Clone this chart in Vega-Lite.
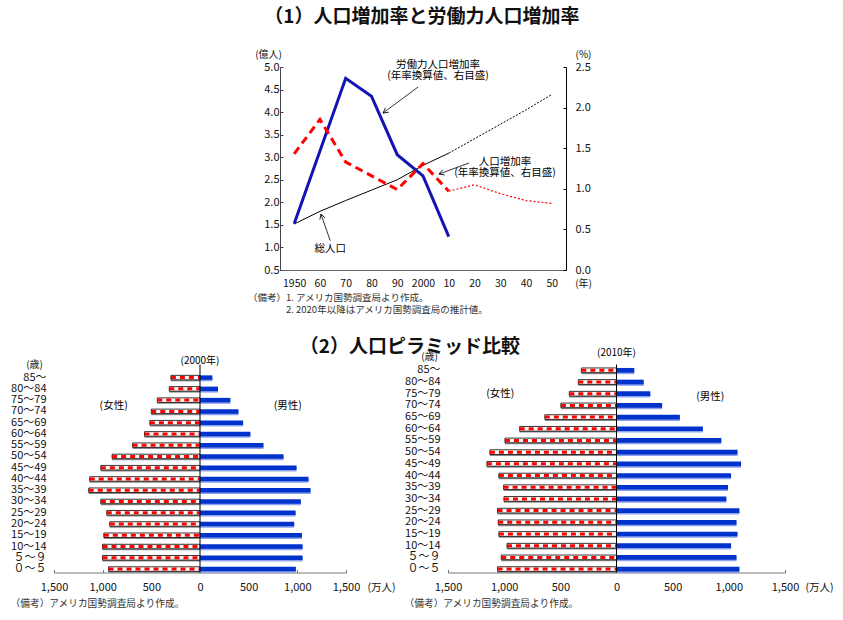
{
  "$schema": "https://vega.github.io/schema/vega-lite/v6.json",
  "padding": {"left": 10, "top": 8, "right": 5, "bottom": 5},
  "background": "#ffffff",
  "config": {
    "font": "Noto Sans CJK JP",
    "view": {"stroke": null},
    "axis": {"grid": false, "labelColor": "#111", "titleColor": "#111", "titleFontWeight": "normal", "labelFont": "Noto Sans CJK JP", "titleFont": "Noto Sans CJK JP", "labelOverlap": false, "labelFlush": false},
    "axisY": {"labelOverlap": false},
    "axisQuantitative": {"labelOverlap": false},
    "title": {"font": "Noto Sans CJK JP", "color": "#111"},
    "text": {"fontWeight": "normal"}
  },
  "title": {"text": "（1）人口増加率と労働力人口増加率", "fontSize": 19, "fontWeight": "bold", "anchor": "middle", "offset": 22},
  "datasets": {
    "trend": [
      {"year": 1950, "pop": 1.52, "growth": 1.43},
      {"year": 1960, "pop": 1.80, "growth": 1.855},
      {"year": 1970, "pop": 2.04, "growth": 1.33},
      {"year": 1980, "pop": 2.27, "growth": 1.16},
      {"year": 1990, "pop": 2.50, "growth": 0.99},
      {"year": 2000, "pop": 2.82, "growth": 1.31},
      {"year": 2010, "pop": 3.09, "growth": 0.97},
      {"year": 2020, "pop": 3.41, "growth": 1.05},
      {"year": 2030, "pop": 3.73, "growth": 0.94},
      {"year": 2040, "pop": 4.05, "growth": 0.855},
      {"year": 2050, "pop": 4.39, "growth": 0.82}
    ],
    "labor": [
      {"year": 1950, "labor": 0.57},
      {"year": 1970, "labor": 2.36},
      {"year": 1980, "labor": 2.14},
      {"year": 1990, "labor": 1.42},
      {"year": 2000, "labor": 1.16},
      {"year": 2010, "labor": 0.41}
    ],
    "p2000": [
      {"age": "85～", "male": 127, "female": 299},
      {"age": "80～84", "male": 185, "female": 316},
      {"age": "75～79", "male": 312, "female": 439},
      {"age": "70～74", "male": 395, "female": 501},
      {"age": "65～69", "male": 443, "female": 515},
      {"age": "60～64", "male": 518, "female": 570},
      {"age": "55～59", "male": 652, "female": 693},
      {"age": "50～54", "male": 858, "female": 903},
      {"age": "45～49", "male": 992, "female": 1019},
      {"age": "40～44", "male": 1115, "female": 1133},
      {"age": "35～39", "male": 1136, "female": 1143},
      {"age": "30～34", "male": 1036, "female": 1019},
      {"age": "25～29", "male": 982, "female": 958},
      {"age": "20～24", "male": 968, "female": 927},
      {"age": "15～19", "male": 1047, "female": 988},
      {"age": "10～14", "male": 1054, "female": 1002},
      {"age": "５～９", "male": 1054, "female": 1002},
      {"age": "０～５", "male": 985, "female": 940}
    ],
    "p2010": [
      {"age": "85～", "male": 158, "female": 313},
      {"age": "80～84", "male": 242, "female": 340},
      {"age": "75～79", "male": 301, "female": 420},
      {"age": "70～74", "male": 406, "female": 495},
      {"age": "65～69", "male": 564, "female": 638},
      {"age": "60～64", "male": 769, "female": 862},
      {"age": "55～59", "male": 933, "female": 993},
      {"age": "50～54", "male": 1077, "female": 1127},
      {"age": "45～49", "male": 1109, "female": 1154},
      {"age": "40～44", "male": 1020, "female": 1047},
      {"age": "35～39", "male": 993, "female": 1005},
      {"age": "30～34", "male": 978, "female": 1002},
      {"age": "25～29", "male": 1094, "female": 1059},
      {"age": "20～24", "male": 1068, "female": 1053},
      {"age": "15～19", "male": 1077, "female": 1047},
      {"age": "10～14", "male": 1020, "female": 975},
      {"age": "５～９", "male": 1068, "female": 1026},
      {"age": "０～５", "male": 1094, "female": 1059}
    ]
  },
  "vconcat": [
    {
      "width": 512,
      "height": 203,
      "title": {
        "text": ["（備考）1. アメリカ国勢調査局より作成。", "\u200b\u3000\u3000\u3000\u30002. 2020年以降はアメリカ国勢調査局の推計値。"],
        "orient": "bottom", "anchor": "start", "frame": "group", "dx": 194,
        "fontSize": 9.5, "fontWeight": "normal", "color": "#333", "lineHeight": 12, "offset": 4
      },
      "layer": [
        {
          "data": {"name": "trend"},
          "encoding": {
            "y": {
              "field": "pop", "type": "quantitative", "title": "(億人)",
              "scale": {"domain": [0.5, 5], "nice": false, "zero": false},
              "axis": {
                "orient": "left", "offset": -226, "values": [0.5, 1, 1.5, 2, 2.5, 3, 3.5, 4, 4.5, 5], "format": ".1f",
                "labelOverlap": false, "domainColor": "#444", "tickColor": "#444", "tickSize": -3, "labelPadding": 4, "labelFontSize": 11,
                "titleAngle": 0, "titleX": -12, "titleY": -13, "titleAlign": "center", "titleBaseline": "middle", "titleFontSize": 10
              }
            }
          },
          "layer": [
            {
              "transform": [{"filter": "datum.year <= 2010"}],
              "mark": {"type": "line", "color": "#000", "strokeWidth": 1},
              "encoding": {
                "x": {
                  "field": "year", "type": "quantitative", "title": "(年)",
                  "scale": {"domain": [1944.5, 2055.5], "nice": false, "zero": false, "range": [226, 512]},
                  "axis": {
                    "values": [1950, 1960, 1970, 1980, 1990, 2000, 2010, 2020, 2030, 2040, 2050],
                    "labelExpr": "datum.value == 1950 || datum.value == 2000 ? '' + datum.value : substring('' + datum.value, 2, 4)",
                    "labelOverlap": false, "domainColor": "#666", "ticks": false, "labelPadding": 8, "labelFontSize": 10.5,
                    "titleX": 529, "titleY": 13, "titleAlign": "center", "titleBaseline": "middle", "titleFontSize": 10
                  }
                }
              }
            },
            {
              "transform": [{"filter": "datum.year >= 2010"}],
              "mark": {"type": "line", "color": "#000", "strokeWidth": 1, "strokeDash": [2, 1.5]},
              "encoding": {
                "x": {"field": "year", "type": "quantitative", "title": "(年)"}
              }
            }
          ]
        },
        {
          "layer": [
            {
              "data": {"name": "labor"},
              "mark": {"type": "line", "color": "#1414b4", "strokeWidth": 3},
              "encoding": {
                "x": {"field": "year", "type": "quantitative", "title": "(年)"},
                "y": {
                  "field": "labor", "type": "quantitative", "title": "(%)",
                  "scale": {"domain": [0, 2.5], "nice": false},
                  "axis": {
                    "orient": "right", "values": [0, 0.5, 1, 1.5, 2, 2.5], "format": ".1f",
                    "labelOverlap": false, "domainColor": "#000", "tickColor": "#000", "tickSize": -3, "labelPadding": 12, "labelFontSize": 11,
                    "titleAngle": 0, "titleX": 17, "titleY": -13, "titleAlign": "center", "titleBaseline": "middle", "titleFontSize": 10
                  }
                }
              }
            },
            {
              "data": {"name": "trend"},
              "transform": [{"filter": "datum.year <= 2010"}],
              "mark": {"type": "line", "color": "#ff0000", "strokeWidth": 3, "strokeDash": [8, 5]},
              "encoding": {
                "x": {"field": "year", "type": "quantitative", "title": "(年)"},
                "y": {"field": "growth", "type": "quantitative", "title": "(%)"}
              }
            },
            {
              "data": {"name": "trend"},
              "transform": [{"filter": "datum.year >= 2010"}],
              "mark": {"type": "line", "color": "#ff0000", "strokeWidth": 1.2, "strokeDash": [2, 2]},
              "encoding": {
                "x": {"field": "year", "type": "quantitative", "title": "(年)"},
                "y": {"field": "growth", "type": "quantitative", "title": "(%)"}
              }
            },
            {
              "data": {"values": [{}]},
              "layer": [
                {
                  "mark": {"type": "text", "text": "労働力人口増加率", "fontSize": 10.5, "align": "center", "baseline": "middle"},
                  "encoding": {"x": {"datum": 2005.8, "type": "quantitative"}, "y": {"datum": 2.524, "type": "quantitative"}}
                },
                {
                  "mark": {"type": "text", "text": "(年率換算値、右目盛)", "fontSize": 10.5, "align": "center", "baseline": "middle"},
                  "encoding": {"x": {"datum": 2005.8, "type": "quantitative"}, "y": {"datum": 2.393, "type": "quantitative"}}
                },
                {
                  "mark": {"type": "text", "text": "人口増加率", "fontSize": 10.5, "align": "center", "baseline": "middle"},
                  "encoding": {"x": {"datum": 2031.8, "type": "quantitative"}, "y": {"datum": 1.333, "type": "quantitative"}}
                },
                {
                  "mark": {"type": "text", "text": "(年率換算値、右目盛)", "fontSize": 10.5, "align": "center", "baseline": "middle"},
                  "encoding": {"x": {"datum": 2031.8, "type": "quantitative"}, "y": {"datum": 1.194, "type": "quantitative"}}
                },
                {
                  "mark": {"type": "text", "text": "総人口", "fontSize": 10.5, "align": "center", "baseline": "middle"},
                  "encoding": {"x": {"datum": 1964.0, "type": "quantitative"}, "y": {"datum": 0.258, "type": "quantitative"}}
                },
                {
                  "mark": {"type": "rule", "color": "#000", "strokeWidth": 0.8},
                  "encoding": {
                    "x": {"datum": 1998.1, "type": "quantitative"}, "y": {"datum": 2.254, "type": "quantitative"},
                    "x2": {"datum": 1984.5}, "y2": {"datum": 1.933}
                  }
                },
                {
                  "mark": {"type": "point", "shape": "M -0.55 1 L 0 0 L 0.55 1", "filled": false, "stroke": "#000", "strokeWidth": 0.8, "size": 100, "angle": 233, "opacity": 1},
                  "encoding": {"x": {"datum": 1984.5, "type": "quantitative"}, "y": {"datum": 1.933, "type": "quantitative"}}
                },
                {
                  "mark": {"type": "rule", "color": "#000", "strokeWidth": 0.8},
                  "encoding": {
                    "x": {"datum": 2017.9, "type": "quantitative"}, "y": {"datum": 1.318, "type": "quantitative"},
                    "x2": {"datum": 2006.2}, "y2": {"datum": 1.182}
                  }
                },
                {
                  "mark": {"type": "point", "shape": "M -0.55 1 L 0 0 L 0.55 1", "filled": false, "stroke": "#000", "strokeWidth": 0.8, "size": 100, "angle": 250, "opacity": 1},
                  "encoding": {"x": {"datum": 2006.2, "type": "quantitative"}, "y": {"datum": 1.182, "type": "quantitative"}}
                },
                {
                  "mark": {"type": "rule", "color": "#000", "strokeWidth": 0.8},
                  "encoding": {
                    "x": {"datum": 1964.0, "type": "quantitative"}, "y": {"datum": 0.361, "type": "quantitative"},
                    "x2": {"datum": 1960.4}, "y2": {"datum": 0.689}
                  }
                },
                {
                  "mark": {"type": "point", "shape": "M -0.55 1 L 0 0 L 0.55 1", "filled": false, "stroke": "#000", "strokeWidth": 0.8, "size": 100, "angle": 342, "opacity": 1},
                  "encoding": {"x": {"datum": 1960.4, "type": "quantitative"}, "y": {"datum": 0.689, "type": "quantitative"}}
                }
              ]
            }
          ]
        }
      ],
      "resolve": {"scale": {"y": "independent"}, "axis": {"y": "independent"}}
    },
    {
      "title": {"text": "（2）人口ピラミッド比較", "fontSize": 19, "fontWeight": "bold", "anchor": "middle", "offset": -9, "dx": -12},
      "bounds": "flush",
      "spacing": 102,
      "hconcat": [
        {
          "width": 292,
          "height": 208,
          "title": {"text": "（備考）アメリカ国勢調査局より作成。", "orient": "bottom", "anchor": "start", "frame": "bounds", "fontSize": 9.7, "fontWeight": "normal", "color": "#333", "offset": 6},
          "layer": [
            {
              "data": {"name": "p2000"},
              "transform": [{"calculate": "-datum.female", "as": "femaleLeft"}],
              "encoding": {
                "y": {
                  "field": "age", "type": "nominal", "title": "(歳)",
                  "scale": {"domain": ["85～", "80～84", "75～79", "70～74", "65～69", "60～64", "55～59", "50～54", "45～49", "40～44", "35～39", "30～34", "25～29", "20～24", "15～19", "10～14", "５～９", "０～５"], "paddingInner": 0.6, "paddingOuter": 0.535, "align": 0.9},
                  "axis": {"labelFontSize": 11, "labelPadding": 8, "domain": false, "ticks": false, "titleAngle": 0, "titleX": -20, "titleY": 0, "titleAlign": "center", "titleBaseline": "middle", "titleFontSize": 10}
                }
              },
              "layer": [
                {
                  "mark": {"type": "bar", "color": "#8a8a8a", "yOffset": 1.5},
                  "encoding": {
                    "x": {
                      "field": "femaleLeft", "type": "quantitative", "title": "(万人)",
                      "scale": {"domain": [-1500, 1500], "nice": false},
                      "axis": {
                        "values": [-1500, -1000, -500, 0, 500, 1000, 1500], "labelExpr": "format(abs(datum.value), ',')",
                        "labelOverlap": false, "labelFontSize": 11, "labelPadding": 12, "domainColor": "#777", "tickColor": "#777", "tickSize": -3,
                        "titleX": 327, "titleY": 15, "titleAlign": "center", "titleBaseline": "middle", "titleFontSize": 10.5
                      }
                    },
                    "x2": {"datum": 0}
                  }
                },
                {
                  "mark": {"type": "bar", "fill": "#ffffff", "stroke": "#000", "strokeWidth": 0.8},
                  "encoding": {"x": {"field": "femaleLeft", "type": "quantitative", "title": "(万人)"}, "x2": {"datum": 0}}
                },
                {
                  "mark": {"type": "rule", "color": "#ff0000", "strokeWidth": 3, "strokeDash": [5, 4]},
                  "encoding": {"x": {"field": "femaleLeft", "type": "quantitative", "title": "(万人)"}, "x2": {"datum": 0}}
                },
                {
                  "mark": {"type": "bar", "color": "#8da3ee", "yOffset": 1.5},
                  "encoding": {"x": {"field": "male", "type": "quantitative", "title": "(万人)"}, "x2": {"datum": 0}}
                },
                {
                  "mark": {"type": "bar", "color": "#0033cc"},
                  "encoding": {"x": {"field": "male", "type": "quantitative", "title": "(万人)"}, "x2": {"datum": 0}}
                }
              ]
            },
            {
              "data": {"values": [{}]},
              "layer": [
                {
                  "mark": {"type": "rule", "color": "#000", "strokeWidth": 1},
                  "encoding": {"x": {"datum": 0, "type": "quantitative"}}
                },
                {
                  "mark": {"type": "text", "text": "(2000年)", "fontSize": 10, "dy": -17},
                  "encoding": {"x": {"datum": 0, "type": "quantitative"}, "y": {"datum": "85～", "type": "nominal"}}
                },
                {
                  "mark": {"type": "text", "text": "(女性)", "fontSize": 10.5, "dy": 6},
                  "encoding": {"x": {"datum": -887, "type": "quantitative"}, "y": {"datum": "75～79", "type": "nominal"}}
                },
                {
                  "mark": {"type": "text", "text": "(男性)", "fontSize": 10.5, "dy": 6},
                  "encoding": {"x": {"datum": 901, "type": "quantitative"}, "y": {"datum": "75～79", "type": "nominal"}}
                }
              ]
            }
          ]
        },
        {
          "width": 337,
          "height": 208,
          "title": {"text": "（備考）アメリカ国勢調査局より作成。", "orient": "bottom", "anchor": "start", "frame": "bounds", "fontSize": 9.7, "fontWeight": "normal", "color": "#333", "offset": 6},
          "layer": [
            {
              "data": {"name": "p2010"},
              "transform": [{"calculate": "-datum.female", "as": "femaleLeft"}],
              "encoding": {
                "y": {
                  "field": "age", "type": "nominal", "title": "(歳)",
                  "scale": {"domain": ["85～", "80～84", "75～79", "70～74", "65～69", "60～64", "55～59", "50～54", "45～49", "40～44", "35～39", "30～34", "25～29", "20～24", "15～19", "10～14", "５～９", "０～５"], "paddingInner": 0.6, "paddingOuter": 0.195, "align": 0.76},
                  "axis": {"labelFontSize": 11, "labelPadding": 8, "domain": false, "ticks": false, "titleAngle": 0, "titleX": -19, "titleY": -8, "titleAlign": "center", "titleBaseline": "middle", "titleFontSize": 10}
                }
              },
              "layer": [
                {
                  "mark": {"type": "bar", "color": "#8a8a8a", "yOffset": 1.5},
                  "encoding": {
                    "x": {
                      "field": "femaleLeft", "type": "quantitative", "title": "(万人)",
                      "scale": {"domain": [-1500, 1500], "nice": false},
                      "axis": {
                        "values": [-1500, -1000, -500, 0, 500, 1000, 1500], "labelExpr": "format(abs(datum.value), ',')",
                        "labelOverlap": false, "labelFontSize": 11, "labelPadding": 12, "domainColor": "#777", "tickColor": "#777", "tickSize": -3,
                        "titleX": 371, "titleY": 15, "titleAlign": "center", "titleBaseline": "middle", "titleFontSize": 10.5
                      }
                    },
                    "x2": {"datum": 0}
                  }
                },
                {
                  "mark": {"type": "bar", "fill": "#ffffff", "stroke": "#000", "strokeWidth": 0.8},
                  "encoding": {"x": {"field": "femaleLeft", "type": "quantitative", "title": "(万人)"}, "x2": {"datum": 0}}
                },
                {
                  "mark": {"type": "rule", "color": "#ff0000", "strokeWidth": 3, "strokeDash": [5, 4]},
                  "encoding": {"x": {"field": "femaleLeft", "type": "quantitative", "title": "(万人)"}, "x2": {"datum": 0}}
                },
                {
                  "mark": {"type": "bar", "color": "#8da3ee", "yOffset": 1.5},
                  "encoding": {"x": {"field": "male", "type": "quantitative", "title": "(万人)"}, "x2": {"datum": 0}}
                },
                {
                  "mark": {"type": "bar", "color": "#0033cc"},
                  "encoding": {"x": {"field": "male", "type": "quantitative", "title": "(万人)"}, "x2": {"datum": 0}}
                }
              ]
            },
            {
              "data": {"values": [{}]},
              "layer": [
                {
                  "mark": {"type": "rule", "color": "#000", "strokeWidth": 1},
                  "encoding": {"x": {"datum": 0, "type": "quantitative"}}
                },
                {
                  "mark": {"type": "text", "text": "(2010年)", "fontSize": 10, "dy": -17},
                  "encoding": {"x": {"datum": 0, "type": "quantitative"}, "y": {"datum": "85～", "type": "nominal"}}
                },
                {
                  "mark": {"type": "text", "text": "(女性)", "fontSize": 10.5, "dy": 0},
                  "encoding": {"x": {"datum": -1035, "type": "quantitative"}, "y": {"datum": "75～79", "type": "nominal"}}
                },
                {
                  "mark": {"type": "text", "text": "(男性)", "fontSize": 10.5, "dy": 3},
                  "encoding": {"x": {"datum": 834, "type": "quantitative"}, "y": {"datum": "75～79", "type": "nominal"}}
                }
              ]
            }
          ]
        }
      ]
    }
  ],
  "spacing": 94.5,
  "bounds": "flush"
}
